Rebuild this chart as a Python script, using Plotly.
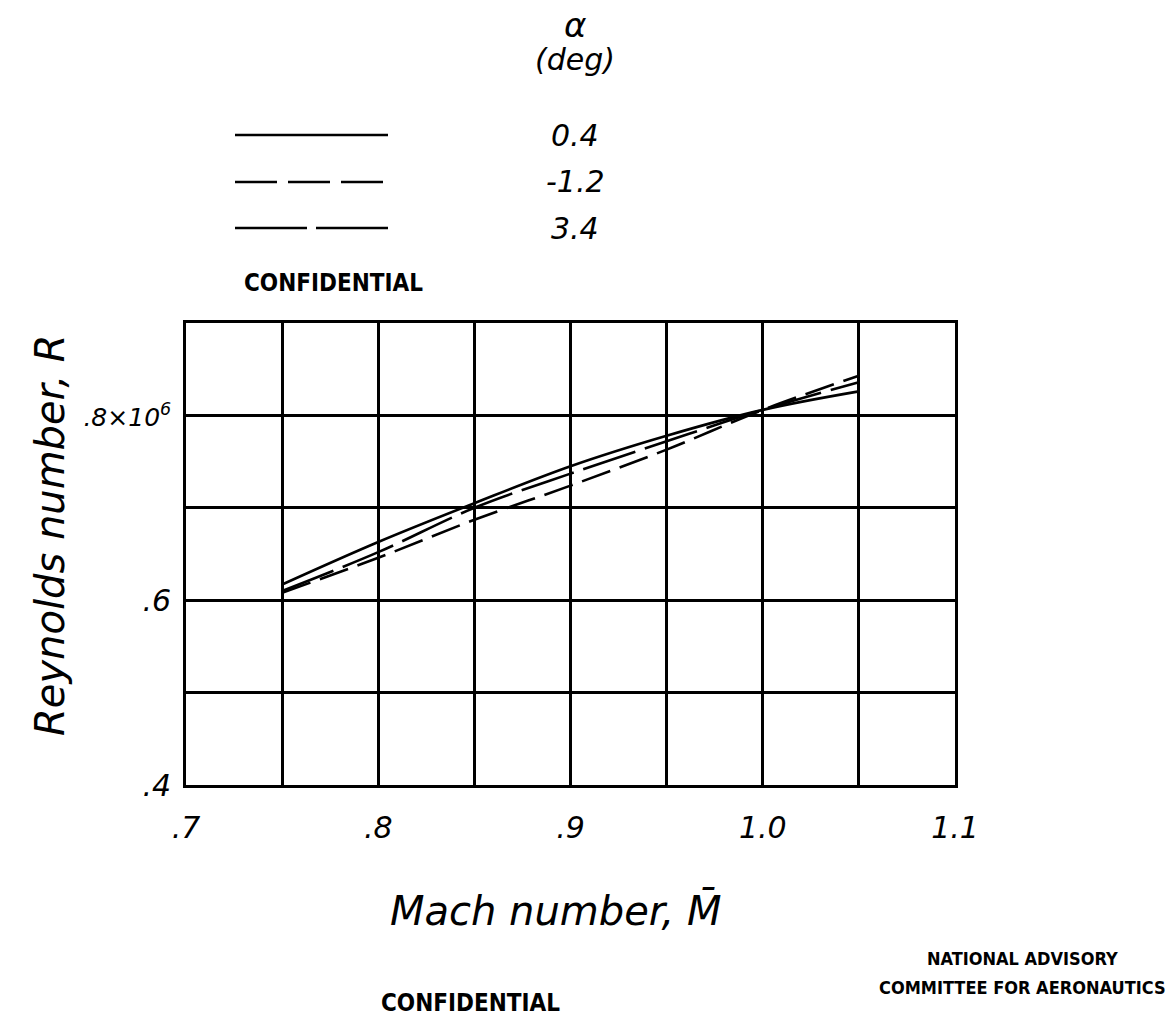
import plotly.graph_objects as go

# Data (Reynolds number in units of 10^6)
mach = [0.75, 0.80, 0.85, 0.90, 0.95, 1.00, 1.05]
re_alpha_0_4 = [0.617, 0.663, 0.705, 0.745, 0.778, 0.806, 0.826]
re_alpha_m1_2 = [0.608, 0.646, 0.687, 0.724, 0.763, 0.806, 0.843]
re_alpha_3_4 = [0.610, 0.652, 0.700, 0.737, 0.772, 0.806, 0.836]

alpha_labels = ["0.4", "-1.2", "3.4"]

x_tickvals = [0.7, 0.75, 0.8, 0.85, 0.9, 0.95, 1.0, 1.05, 1.1]
x_ticktext = [".7", "", ".8", "", ".9", "", "1.0", "", "1.1"]
y_tickvals = [0.4, 0.5, 0.6, 0.7, 0.8, 0.9]
y_ticktext = [".4", "", ".6", "",
              "<span style='font-size:25px'>.8\u00d710<sup>6</sup></span>", ""]

hand = "DejaVu Sans"
dash_styles = ["solid", "30px,10px", "55px,10px"]
legend_dash_styles = ["solid", "42px,11px", "72px,9px"]

fig = go.Figure()
for vals, dash in zip([re_alpha_0_4, re_alpha_m1_2, re_alpha_3_4], dash_styles):
    fig.add_trace(go.Scatter(x=mach, y=vals, mode="lines",
                             line=dict(color="black", width=2.6, dash=dash, shape="spline"),
                             showlegend=False, hoverinfo="skip"))

axis_common = dict(showgrid=True, gridcolor="black", gridwidth=2.6,
                   showline=True, linecolor="black", linewidth=2.6, mirror=True,
                   zeroline=False, ticks="",
                   tickfont=dict(family=hand, size=30, color="black", style="italic"))

fig.update_xaxes(range=[0.7, 1.1], tickvals=x_tickvals, ticktext=x_ticktext,
                 ticklabelstandoff=14, **axis_common)
fig.update_yaxes(range=[0.4, 0.9], tickvals=y_tickvals, ticktext=y_ticktext,
                 ticklabelstandoff=6, **axis_common)

fig.update_layout(
    width=1172, height=1021,
    margin=dict(l=186, r=217, t=323, b=236),
    plot_bgcolor="white", paper_bgcolor="white",
    showlegend=False,
)

ann = []
def txt(x, y, s, size=30, family=hand, style="italic", weight="normal", xanchor="center", angle=0):
    ann.append(dict(x=x, y=y, xref="paper", yref="paper", text=s, showarrow=False,
                    xanchor=xanchor, yanchor="middle", textangle=angle,
                    font=dict(family=family, size=size, color="black", style=style, weight=weight)))

# Convert pixel positions to paper coords
W0, W1 = 186, 955
H0, H1 = 323, 785
def px(xp):
    return (xp - W0) / (W1 - W0)
def py(yp):
    return (H1 - yp) / (H1 - H0)

# Axis titles
txt(px(555), py(910), "Mach number, M\u0304", size=40)
txt(px(50), py(535), "Reynolds number, R", size=40, angle=-90)

# Legend header and labels
txt(px(575), py(25), "\u03b1", size=34)
txt(px(575), py(60), "(deg)", size=30)
legend_y = [135, 182, 228]
for lab, yy in zip(alpha_labels, legend_y):
    txt(px(575), py(yy), lab, size=30)

shapes = []
for yy, d in zip(legend_y, legend_dash_styles):
    shapes.append(dict(type="line", xref="paper", yref="paper",
                       x0=px(235), x1=px(388), y0=py(yy), y1=py(yy),
                       line=dict(color="black", width=2.6, dash=d)))

bold = "DejaVu Sans Condensed, DejaVu Sans"
# CONFIDENTIAL stamps and NACA label
txt(px(333), py(283), "CONFIDENTIAL", size=24, family=bold, style="normal", weight="bold")
txt(px(470), py(1003), "CONFIDENTIAL", size=24, family=bold, style="normal", weight="bold")
txt(px(1022), py(958), "NATIONAL ADVISORY", size=18, family=bold, style="normal", weight="bold")
txt(px(1022), py(987), "COMMITTEE FOR AERONAUTICS", size=18, family=bold, style="normal", weight="bold")

fig.update_layout(annotations=ann, shapes=shapes)

fig.write_html("out.html")
